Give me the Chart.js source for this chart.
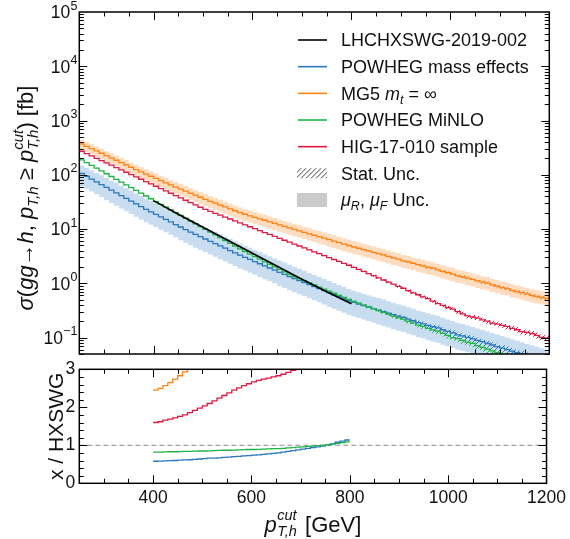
<!DOCTYPE html>
<html><head><meta charset="utf-8">
<script src="https://cdn.jsdelivr.net/npm/chart.js@4.4.1/dist/chart.umd.min.js"></script>
<style>
html,body{margin:0;padding:0;background:#fff;}
#wrap{position:relative;width:570px;height:539px;background:#fff;}
canvas{position:absolute;left:0;top:0;}
</style></head><body>
<div id="wrap"><canvas id="top" width="570" height="539"></canvas><canvas id="bot" width="570" height="539"></canvas></div>
<script>
// ---------------- data ----------------
const binStart = 250;          // first bin low edge [GeV]
const binWidth = 10;           // bin width [GeV]
const ratioStart = 400;        // first bin of ratio panel [GeV]

const hxswgPt = [400, 450, 500, 550, 600, 650, 700, 750, 800];
const hxswg   = [33.3, 18.75, 10.8, 6.21, 3.58, 2.06, 1.186, 0.697, 0.419];

const powhegMass = [
 105.4, 93.8, 83.4, 74.1, 65.9, 58.6, 52.1, 46.3, 41.2, 36.6,
 32.6, 29.0, 25.8, 23.0, 20.7, 18.6, 16.7, 15.0, 13.5, 12.1,
 10.9, 9.77, 8.77, 7.96, 7.21, 6.55, 5.93, 5.38, 4.88, 4.43,
 4.01, 3.64, 3.30, 3.01, 2.75, 2.51, 2.29, 2.09, 1.91, 1.75,
 1.59, 1.46, 1.33, 1.22, 1.117, 1.026, 0.942, 0.865, 0.794, 0.729,
 0.670, 0.615, 0.565, 0.519, 0.476, 0.443, 0.415, 0.389, 0.365, 0.342,
 0.321, 0.301, 0.282, 0.264, 0.248, 0.235, 0.218, 0.204, 0.188, 0.179,
 0.168, 0.158, 0.151, 0.139, 0.130, 0.122, 0.112, 0.107, 0.1005, 0.0942,
 0.0883, 0.0840, 0.0776, 0.0728, 0.0682, 0.0640, 0.0600, 0.0562, 0.0527, 0.0494,
 0.0463, 0.0435, 0.0407, 0.0382, 0.0358];

const mg5 = [
 370, 335, 303, 275, 249, 225, 204, 185, 167.5, 152,
 137, 124, 113, 103, 93.8, 85.5, 78.0, 71.1, 64.9, 59.2,
 54.3, 49.9, 45.7, 42.0, 38.5, 35.3, 32.4, 29.9, 27.6, 25.5,
 23.5, 21.7, 20.0, 18.7, 17.5, 16.4, 15.4, 14.5, 13.55, 12.7,
 11.9, 11.2, 10.5, 9.84, 9.25, 8.69, 8.17, 7.67, 7.21, 6.78,
 6.37, 5.98, 5.62, 5.28, 4.97, 4.68, 4.42, 4.17, 3.94, 3.72,
 3.51, 3.35, 3.13, 2.95, 2.79, 2.58, 2.48, 2.34, 2.21, 2.09,
 1.97, 1.90, 1.76, 1.66, 1.57, 1.48, 1.37, 1.32, 1.245, 1.175,
 1.109, 1.047, 1.01, 0.933, 0.881, 0.832, 0.80, 0.741, 0.705, 0.670,
 0.637, 0.595, 0.575, 0.547, 0.520];

const minlo = [
 188.4, 167.5, 148.9, 132.1, 117.5, 104.5, 92.9, 82.4, 73.3, 65.2,
 57.8, 51.4, 45.7, 40.6, 36.1, 32.1, 28.5, 25.4, 22.5, 20.0,
 17.8, 15.8, 14.0, 12.5, 11.1, 9.84, 8.75, 7.78, 6.92, 6.14,
 5.46, 4.85, 4.31, 3.85, 3.45, 3.10, 2.78, 2.49, 2.24, 2.01,
 1.80, 1.62, 1.45, 1.32, 1.21, 1.107, 1.014, 0.929, 0.851, 0.780,
 0.714, 0.655, 0.600, 0.550, 0.504, 0.463, 0.429, 0.396, 0.366, 0.339,
 0.313, 0.290, 0.268, 0.248, 0.231, 0.218, 0.199, 0.185, 0.169, 0.160,
 0.148, 0.138, 0.131, 0.119, 0.110, 0.100, 0.0953, 0.0885, 0.0822, 0.0780,
 0.0710, 0.0659, 0.0612, 0.0569, 0.0528, 0.0491, 0.0456, 0.0424, 0.0394, 0.0366,
 0.0340, 0.0316, 0.0293, 0.0272, 0.0253];

const hig = [
 271, 245.5, 222, 201, 182, 165, 150, 135.5, 122.7, 111.2,
 100.7, 91.2, 82.6, 74.8, 67.8, 61.4, 55.6, 50.4, 45.6, 41.3,
 37.4, 33.9, 30.7, 27.8, 25.2, 23.0, 21.2, 19.5, 18.0, 16.6,
 15.3, 14.1, 12.97, 11.94, 11.0, 10.14, 9.35, 8.61, 7.94, 7.31,
 6.75, 6.21, 5.73, 5.27, 4.86, 4.48, 4.13, 3.80, 3.51, 3.23,
 2.98, 2.74, 2.53, 2.33, 2.15, 1.97, 1.80, 1.65, 1.51, 1.38,
 1.26, 1.15, 1.05, 0.962, 0.879, 0.81, 0.735, 0.664, 0.614, 0.561,
 0.52, 0.469, 0.422, 0.392, 0.358, 0.333, 0.299, 0.274, 0.250, 0.239,
 0.228, 0.212, 0.200, 0.185, 0.177, 0.167, 0.160, 0.148, 0.139, 0.129,
 0.124, 0.118, 0.110, 0.101, 0.0973];

// scale (muR, muF) uncertainty, relative up / down
const mg5ScaleUp = [
 0.20,0.20,0.20,0.21,0.21,0.21,0.21,0.22,0.22,0.22,
 0.22,0.22,0.23,0.23,0.23,0.23,0.23,0.24,0.24,0.24,
 0.24,0.24,0.24,0.24,0.25,0.25,0.25,0.25,0.25,0.25,
 0.25,0.25,0.25,0.25,0.25,0.26,0.26,0.26,0.26,0.26,
 0.26,0.26,0.26,0.26,0.27,0.27,0.27,0.27,0.27,0.27,
 0.27,0.27,0.27,0.27,0.27,0.28,0.28,0.28,0.28,0.28,
 0.28,0.28,0.28,0.28,0.28,0.28,0.28,0.28,0.29,0.29,
 0.29,0.29,0.29,0.29,0.29,0.29,0.29,0.29,0.29,0.29,
 0.29,0.29,0.29,0.29,0.29,0.29,0.29,0.29,0.29,0.29,
 0.29,0.29,0.29,0.29,0.29];
const mg5ScaleDown = [
 0.21,0.21,0.21,0.22,0.22,0.22,0.22,0.22,0.23,0.23,
 0.23,0.23,0.23,0.23,0.24,0.24,0.24,0.24,0.24,0.24,
 0.24,0.24,0.25,0.25,0.25,0.25,0.25,0.25,0.25,0.25,
 0.25,0.25,0.25,0.25,0.25,0.25,0.25,0.25,0.25,0.25,
 0.25,0.25,0.25,0.25,0.25,0.25,0.25,0.25,0.25,0.25,
 0.26,0.26,0.26,0.26,0.26,0.26,0.26,0.26,0.26,0.26,
 0.26,0.26,0.26,0.26,0.26,0.26,0.26,0.26,0.26,0.26,
 0.26,0.26,0.26,0.26,0.26,0.26,0.26,0.26,0.26,0.26,
 0.26,0.26,0.26,0.26,0.26,0.26,0.26,0.26,0.26,0.26,
 0.26,0.26,0.26,0.26,0.26];
const powhegScaleUp = [
 0.40,0.42,0.44,0.46,0.48,0.50,0.51,0.52,0.53,0.54,
 0.55,0.56,0.57,0.58,0.59,0.60,0.60,0.61,0.61,0.62,
 0.62,0.62,0.63,0.63,0.63,0.63,0.64,0.64,0.64,0.64,
 0.64,0.64,0.64,0.64,0.64,0.64,0.64,0.64,0.64,0.64,
 0.65,0.65,0.65,0.65,0.65,0.65,0.65,0.65,0.65,0.65,
 0.65,0.65,0.65,0.65,0.65,0.65,0.65,0.65,0.65,0.65,
 0.66,0.66,0.66,0.66,0.66,0.66,0.66,0.66,0.66,0.66,
 0.66,0.66,0.66,0.66,0.66,0.66,0.66,0.66,0.66,0.66,
 0.66,0.66,0.66,0.66,0.66,0.66,0.66,0.66,0.66,0.66,
 0.66,0.66,0.66,0.66,0.66];
const powhegScaleDown = [
 0.41,0.41,0.41,0.41,0.41,0.42,0.42,0.42,0.42,0.42,
 0.42,0.42,0.42,0.42,0.42,0.42,0.42,0.42,0.42,0.42,
 0.43,0.43,0.43,0.43,0.43,0.43,0.43,0.43,0.43,0.43,
 0.43,0.43,0.43,0.43,0.43,0.43,0.43,0.43,0.43,0.43,
 0.44,0.44,0.44,0.44,0.44,0.44,0.44,0.44,0.44,0.44,
 0.45,0.45,0.45,0.45,0.45,0.45,0.45,0.45,0.45,0.45,
 0.46,0.46,0.46,0.46,0.46,0.46,0.46,0.46,0.46,0.46,
 0.47,0.47,0.47,0.47,0.47,0.47,0.47,0.47,0.47,0.47,
 0.47,0.47,0.47,0.47,0.47,0.47,0.47,0.47,0.47,0.47,
 0.47,0.47,0.47,0.47,0.47];

// statistical uncertainty, relative
const powhegStat = [
 0.01,0.01,0.01,0.01,0.01,0.01,0.01,0.01,0.01,0.01,
 0.01,0.01,0.01,0.01,0.01,0.01,0.01,0.01,0.01,0.01,
 0.01,0.01,0.01,0.01,0.01,0.01,0.01,0.01,0.01,0.01,
 0.01,0.01,0.01,0.01,0.01,0.01,0.01,0.01,0.01,0.01,
 0.015,0.015,0.015,0.015,0.015,0.015,0.015,0.015,0.015,0.015,
 0.02,0.02,0.025,0.025,0.03,0.03,0.035,0.035,0.04,0.04,
 0.045,0.05,0.055,0.06,0.065,0.07,0.075,0.08,0.085,0.09,
 0.095,0.10,0.10,0.105,0.105,0.11,0.11,0.115,0.115,0.12,
 0.12,0.125,0.125,0.13,0.13,0.135,0.135,0.14,0.14,0.145,
 0.145,0.15,0.15,0.15,0.15];
const mg5Stat = [
 0.01,0.01,0.01,0.01,0.01,0.01,0.01,0.01,0.01,0.01,
 0.01,0.01,0.01,0.01,0.01,0.01,0.01,0.01,0.01,0.01,
 0.01,0.01,0.01,0.01,0.01,0.01,0.01,0.01,0.01,0.01,
 0.01,0.01,0.01,0.01,0.01,0.01,0.01,0.01,0.01,0.01,
 0.015,0.015,0.015,0.015,0.015,0.015,0.015,0.015,0.015,0.015,
 0.02,0.02,0.025,0.025,0.03,0.03,0.03,0.035,0.035,0.035,
 0.04,0.04,0.04,0.045,0.045,0.045,0.05,0.05,0.05,0.055,
 0.055,0.055,0.06,0.06,0.06,0.065,0.065,0.065,0.07,0.07,
 0.07,0.075,0.075,0.075,0.08,0.08,0.08,0.085,0.085,0.085,
 0.09,0.09,0.09,0.095,0.095];
const minloStat = [
 0.015,0.015,0.015,0.015,0.015,0.015,0.015,0.015,0.015,0.015,
 0.015,0.015,0.015,0.015,0.015,0.015,0.015,0.015,0.015,0.015,
 0.015,0.015,0.015,0.015,0.015,0.015,0.015,0.015,0.015,0.015,
 0.015,0.015,0.015,0.015,0.015,0.015,0.015,0.015,0.015,0.015,
 0.02,0.02,0.02,0.02,0.02,0.02,0.02,0.02,0.02,0.02,
 0.03,0.03,0.035,0.035,0.04,0.04,0.045,0.045,0.05,0.05,
 0.055,0.06,0.065,0.07,0.075,0.08,0.085,0.09,0.095,0.10,
 0.105,0.11,0.115,0.12,0.125,0.13,0.135,0.14,0.145,0.15,
 0.155,0.16,0.165,0.17,0.175,0.18,0.185,0.19,0.195,0.20,
 0.20,0.20,0.20,0.20,0.20];
const higStat = [
 0.01,0.01,0.01,0.01,0.01,0.01,0.01,0.01,0.01,0.01,
 0.01,0.01,0.01,0.01,0.01,0.01,0.01,0.01,0.01,0.01,
 0.01,0.01,0.01,0.01,0.01,0.01,0.01,0.01,0.01,0.01,
 0.01,0.01,0.01,0.01,0.01,0.01,0.01,0.01,0.01,0.01,
 0.01,0.01,0.01,0.01,0.01,0.01,0.01,0.01,0.01,0.01,
 0.02,0.02,0.025,0.025,0.03,0.03,0.035,0.035,0.04,0.04,
 0.045,0.045,0.05,0.05,0.055,0.055,0.06,0.06,0.065,0.065,
 0.07,0.07,0.075,0.075,0.08,0.08,0.085,0.085,0.09,0.09,
 0.095,0.095,0.10,0.10,0.105,0.105,0.11,0.11,0.115,0.115,
 0.12,0.12,0.125,0.125,0.13];

// ratio panel x / HXSWG (bins from 400 GeV)
const ratioPowheg = [
 0.58,0.585,0.59,0.595,0.60,0.61,0.615,0.62,0.63,0.64,
 0.65,0.66,0.665,0.67,0.68,0.69,0.70,0.71,0.72,0.73,
 0.74,0.75,0.76,0.775,0.79,0.80,0.82,0.84,0.86,0.88,
 0.90,0.92,0.94,0.96,0.98,1.01,1.04,1.08,1.11,1.14];
const ratioMinlo = [
 0.82,0.82,0.825,0.83,0.83,0.835,0.84,0.84,0.845,0.85,
 0.85,0.855,0.86,0.865,0.87,0.87,0.875,0.88,0.885,0.89,
 0.89,0.895,0.90,0.905,0.91,0.915,0.92,0.93,0.94,0.95,
 0.96,0.97,0.98,0.99,1.00,1.02,1.03,1.05,1.07,1.09];
const ratioHig = [
 1.60,1.62,1.66,1.69,1.72,1.76,1.80,1.86,1.92,1.98,
 2.04,2.10,2.17,2.24,2.31,2.38,2.45,2.51,2.57,2.62,
 2.67,2.71,2.74,2.77,2.80,2.83,2.87,2.92,2.97,3.02];
const ratioMg5 = [2.45,2.50,2.57,2.65,2.74,2.83,2.93,3.03,3.13];

const logTickExps = [-1, 0, 1, 2, 3, 4, 5];
const ptTickLabels = [400, 600, 800, 1000, 1200];
const ratioTickLabels = [0, 1, 2, 3];

// ---------------- helpers ----------------
const FF = '"Liberation Sans", Arial, Helvetica, sans-serif';
const C_BLUE = '#2a78bd', C_ORANGE = '#ff8214', C_GREEN = '#1fb34a', C_RED = '#de1a44';
function steps(vals, start) {
  const pts = vals.map((v, i) => ({x: start + binWidth * i, y: v}));
  pts.push({x: start + binWidth * vals.length, y: vals[vals.length - 1]});
  return pts;
}
function shifted(vals, rel, sign) { return vals.map((v, i) => v * (1 + sign * rel[i])); }
const pctx = document.createElement('canvas').getContext('2d');
function hatch(color) {
  const c = document.createElement('canvas'); c.width = 5; c.height = 5;
  const g = c.getContext('2d'); g.strokeStyle = color; g.lineWidth = 1;
  g.beginPath(); g.moveTo(-1, 6); g.lineTo(6, -1); g.moveTo(-1, 1); g.lineTo(1, -1); g.moveTo(4, 6); g.lineTo(6, 4); g.stroke();
  return pctx.createPattern(c, 'repeat');
}
function band(lo, hi, color, order) {
  return [
    {data: steps(lo, binStart), stepped: true, borderWidth: 0, pointRadius: 0, fill: false, order},
    {data: steps(hi, binStart), stepped: true, borderWidth: 0, pointRadius: 0, fill: '-1', backgroundColor: color, order}
  ];
}
function line(vals, start, color, order) {
  return {data: steps(vals, start), stepped: true, borderColor: color, borderWidth: 1.3, pointRadius: 0, fill: false, order};
}
function segsWidth(ctx, segs) {
  let w = 0;
  for (const s of segs) {
    ctx.font = s.f;
    if (s.sup !== undefined || s.sub !== undefined) {
      const a = s.sup ? ctx.measureText(s.sup).width : 0, b = s.sub ? ctx.measureText(s.sub).width : 0;
      w += Math.max(a, b) + (s.pad || 0);
    } else w += ctx.measureText(s.t).width + (s.pad || 0);
  }
  return w;
}
function drawSegs(ctx, segs, x, y) {
  ctx.textAlign = 'left'; ctx.textBaseline = 'alphabetic';
  for (const s of segs) {
    ctx.font = s.f;
    if (s.sup !== undefined || s.sub !== undefined) {
      let a = 0, b = 0;
      if (s.sup) { ctx.fillText(s.sup, x, y + s.up); a = ctx.measureText(s.sup).width; }
      if (s.sub) { ctx.fillText(s.sub, x, y + s.dn); b = ctx.measureText(s.sub).width; }
      x += Math.max(a, b) + (s.pad || 0);
    } else { ctx.fillText(s.t, x, y + (s.dy || 0)); x += ctx.measureText(s.t).width + (s.pad || 0); }
  }
}
function frameAndTicks(chart, xt, yt) {
  const {ctx, chartArea: a} = chart, xs = chart.scales.x, ys = chart.scales.y;
  ctx.save(); ctx.strokeStyle = '#000'; ctx.lineWidth = 1; ctx.beginPath();
  for (const t of xt) {
    const px = Math.round(xs.getPixelForValue(t.v)) + 0.5, L = t.major ? 8 : 4.5;
    ctx.moveTo(px, a.bottom); ctx.lineTo(px, a.bottom - L); ctx.moveTo(px, a.top); ctx.lineTo(px, a.top + L);
  }
  for (const t of yt) {
    const py = Math.round(ys.getPixelForValue(t.v)) + 0.5, L = t.major ? 8 : 4.5;
    ctx.moveTo(a.left, py); ctx.lineTo(a.left + L, py); ctx.moveTo(a.right, py); ctx.lineTo(a.right - L, py);
  }
  ctx.stroke();
  ctx.lineWidth = 1.5; ctx.strokeRect(a.left, a.top, a.right - a.left, a.bottom - a.top);
  ctx.restore();
}
const xTickList = [];
for (let v = 300; v < 1200; v += 50) xTickList.push({v, major: v % 200 === 0});

// ---------------- top panel ----------------
const topSets = [
  Object.assign(line(hig, binStart, C_RED, 2)),
  line(minlo, binStart, C_GREEN, 3),
  line(mg5, binStart, C_ORANGE, 4),
  line(powhegMass, binStart, C_BLUE, 5),
  {data: hxswgPt.map((x, i) => ({x, y: hxswg[i]})), borderColor: '#000', borderWidth: 1.6, pointRadius: 0, fill: false, tension: 0, order: 0},
  ...band(shifted(powhegMass, powhegStat, -1), shifted(powhegMass, powhegStat, 1), hatch(C_BLUE), 8),
  ...band(shifted(mg5, mg5Stat, -1), shifted(mg5, mg5Stat, 1), hatch(C_ORANGE), 8),
  ...band(shifted(minlo, minloStat, -1), shifted(minlo, minloStat, 1), hatch(C_GREEN), 8),
  ...band(shifted(hig, higStat, -1), shifted(hig, higStat, 1), hatch(C_RED), 8),
  ...band(shifted(powhegMass, powhegScaleDown, -1), shifted(powhegMass, powhegScaleUp, 1), '#c9ddf0', 20),
  ...band(shifted(mg5, mg5ScaleDown, -1), shifted(mg5, mg5ScaleUp, 1), '#fddcbf', 20)
];

const legendRows = [
  {kind: 'line', color: '#000', segs: [{t: 'LHCHXSWG-2019-002'}]},
  {kind: 'line', color: C_BLUE, segs: [{t: 'POWHEG mass effects'}]},
  {kind: 'line', color: C_ORANGE, segs: [{t: 'MG5 '}, {t: 'm', it: 1}, {t: 't', it: 1, small: 1, dy: 4}, {t: ' = '}, {t: '∞'}]},
  {kind: 'line', color: C_GREEN, segs: [{t: 'POWHEG MiNLO'}]},
  {kind: 'line', color: C_RED, segs: [{t: 'HIG-17-010 sample'}]},
  {kind: 'hatch', segs: [{t: 'Stat. Unc.'}]},
  {kind: 'box', segs: [{t: 'μ', it: 1}, {t: 'R', it: 1, small: 1, dy: 4}, {t: ', '}, {t: 'μ', it: 1}, {t: 'F', it: 1, small: 1, dy: 4}, {t: ' Unc.'}]}
];

const topPlugin = {
  id: 'topDeco',
  afterDraw(chart) {
    const ctx = chart.ctx, ys = chart.scales.y;
    const yt = [];
    for (let e = -2; e <= 4; e++) for (let k = 1; k <= 9; k++) {
      const v = k * Math.pow(10, e);
      if (v > ys.min && v < ys.max) yt.push({v, major: k === 1});
    }
    frameAndTicks(chart, xTickList, yt);
    ctx.save(); ctx.fillStyle = '#111'; ctx.textBaseline = 'alphabetic';
    for (const e of logTickExps) {
      const py = ys.getPixelForValue(Math.pow(10, e));
      const es = e < 0 ? '−' + (-e) : String(e);
      ctx.font = '12.5px ' + FF; const we = ctx.measureText(es).width;
      ctx.textAlign = 'left'; ctx.fillText(es, 77.5 - we, py - 2.5);
      ctx.font = '17.5px ' + FF; ctx.textAlign = 'right'; ctx.fillText('10', 77.5 - we - 0.3, py + 6.3);
    }
    // y title
    const R = '22px ' + FF, I = 'italic 22px ' + FF, S = 'italic 15px ' + FF;
    const segs = [
      {t: 'σ', f: I}, {t: '(', f: R}, {t: 'gg', f: I}, {t: '→', f: R}, {t: 'h', f: I}, {t: ', ', f: R},
      {t: 'p', f: I}, {sub: 'T,h', f: S, dn: 5}, {t: ' ≥ ', f: R}, {t: 'p', f: I},
      {sup: 'cut', sub: 'T,h', f: S, up: -10, dn: 5}, {t: ')', f: R}, {t: ' [fb]', f: R}
    ];
    const W = segsWidth(ctx, segs);
    ctx.translate(33, 198); ctx.rotate(-Math.PI / 2);
    drawSegs(ctx, segs, -W / 2, 0);
    ctx.restore();
    // legend
    ctx.save(); ctx.fillStyle = '#111';
    legendRows.forEach((r, i) => {
      const cy = 40 + i * 26.67;
      if (r.kind === 'line') {
        ctx.strokeStyle = r.color; ctx.lineWidth = 1.6; ctx.beginPath(); ctx.moveTo(298, cy); ctx.lineTo(327, cy); ctx.stroke();
      } else if (r.kind === 'hatch') {
        ctx.save(); ctx.beginPath(); ctx.rect(297, cy - 5, 30, 10); ctx.clip();
        ctx.strokeStyle = '#444'; ctx.lineWidth = 1; ctx.beginPath();
        for (let x = 290; x < 335; x += 5) { ctx.moveTo(x, cy + 6); ctx.lineTo(x + 12, cy - 6); }
        ctx.stroke(); ctx.restore();
      } else {
        ctx.fillStyle = '#cbcbcb'; ctx.fillRect(297, cy - 7, 30, 14); ctx.fillStyle = '#111';
      }
      const segs2 = r.segs.map(s => ({t: s.t, dy: s.dy || 0, f: (s.it ? 'italic ' : '') + (s.small ? '12.5px ' : '18px ') + FF}));
      drawSegs(ctx, segs2, 341, cy + 6.4);
    });
    ctx.restore();
  }
};

new Chart(document.getElementById('top'), {
  type: 'line',
  data: {datasets: topSets},
  options: {
    responsive: false, animation: false, devicePixelRatio: 1,
    layout: {padding: {left: 0, top: 12, right: 20.7, bottom: 185}},
    plugins: {legend: {display: false}, tooltip: {enabled: false}},
    scales: {
      x: {type: 'linear', min: 250, max: 1200, grid: {display: false, drawTicks: false}, border: {display: false},
          ticks: {display: false}, afterFit(s) { s.height = 0; }},
      y: {type: 'logarithmic', min: 0.0497, max: 1e5, grid: {display: false, drawTicks: false}, border: {display: false},
          ticks: {display: false}, afterFit(s) { s.width = 79.3; }}
    }
  },
  plugins: [topPlugin]
});

// ---------------- ratio panel ----------------
const botPlugin = {
  id: 'botDeco',
  afterDraw(chart) {
    const ctx = chart.ctx;
    const yt = [];
    for (let v = 0.2; v < 2.95; v += 0.2) yt.push({v, major: Math.abs(v - Math.round(v)) < 1e-6});
    frameAndTicks(chart, xTickList, yt);
    ctx.save(); ctx.fillStyle = '#111';
    // x title
    const R = '22px ' + FF, I = 'italic 22px ' + FF, S = 'italic 14.5px ' + FF;
    const xs = [{t: 'p', f: I, pad: 0.5}, {sup: 'cut', sub: 'T,h', f: S, up: -11.5, dn: 4, pad: 2}, {t: ' [GeV]', f: R}];
    const W = segsWidth(ctx, xs);
    const a = chart.chartArea;
    drawSegs(ctx, xs, (a.left + a.right) / 2 - W / 2, 531.5);
    // y title
    const ys = [{t: 'x / HXSWG', f: '21px ' + FF}];
    const W2 = segsWidth(ctx, ys);
    ctx.translate(62.5, (a.top + a.bottom) / 2); ctx.rotate(-Math.PI / 2);
    drawSegs(ctx, ys, -W2 / 2, 0);
    ctx.restore();
  }
};

new Chart(document.getElementById('bot'), {
  type: 'line',
  data: {datasets: [
    line(ratioHig, ratioStart, C_RED, 2),
    line(ratioMinlo, ratioStart, C_GREEN, 3),
    line(ratioMg5, ratioStart, C_ORANGE, 4),
    line(ratioPowheg, ratioStart, C_BLUE, 5),
    {data: [{x: 250, y: 1}, {x: 1200, y: 1}], borderColor: '#8c8c8c', borderWidth: 1.1, borderDash: [5, 3], pointRadius: 0, fill: false, order: 10}
  ]},
  options: {
    responsive: false, animation: false, devicePixelRatio: 1,
    layout: {padding: {left: 0, top: 369.3, right: 20.7, bottom: 15.7}},
    plugins: {legend: {display: false}, tooltip: {enabled: false}},
    scales: {
      x: {type: 'linear', min: 250, max: 1200, grid: {display: false, drawTicks: false}, border: {display: false},
          afterBuildTicks(s) { s.ticks = ptTickLabels.map(v => ({value: v})); },
          ticks: {autoSkip: false, maxRotation: 0, padding: 4, color: '#111', font: {family: FF, size: 17.5}, callback: v => String(v)},
          afterFit(s) { s.height = 40; }},
      y: {type: 'linear', min: 0, max: 3, grid: {display: false, drawTicks: false}, border: {display: false},
          afterBuildTicks(s) { s.ticks = ratioTickLabels.map(v => ({value: v})); },
          ticks: {autoSkip: false, padding: 4, color: '#111', font: {family: FF, size: 17.5}, callback: v => String(v)},
          afterFit(s) { s.width = 79.3; }}
    }
  },
  plugins: [botPlugin]
});
</script>
</body></html>
